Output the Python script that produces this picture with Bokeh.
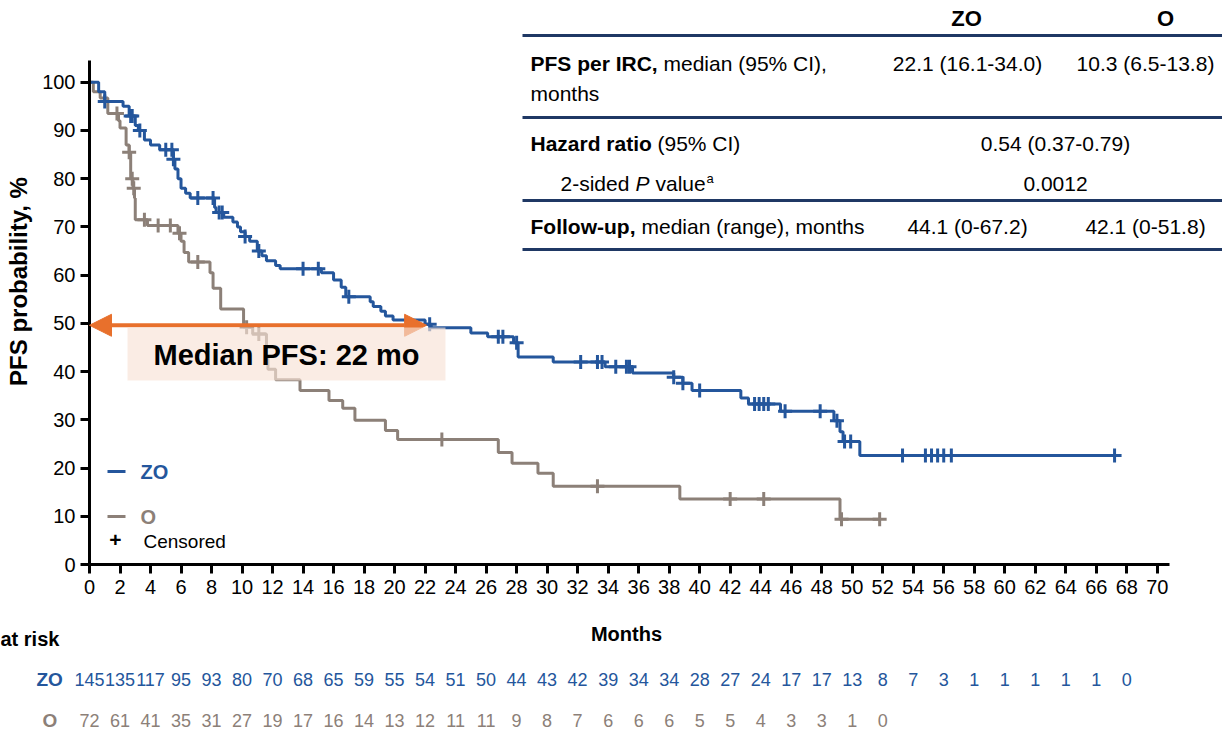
import numpy as np
from bokeh.plotting import figure
from bokeh.models import (Range1d, FixedTicker, Label, LabelSet, ColumnDataSource,
                          BoxAnnotation, Arrow, NormalHead, LinearAxis)
from bokeh.core.properties import value
from bokeh.embed import file_html
from bokeh.resources import INLINE

# ---------------- data ----------------
month_ticks = list(range(0, 72, 2))
prob_ticks = list(range(0, 101, 10))

zo_times = [0, 0.6, 1.0, 2.2, 2.6, 3.0, 3.2, 3.6, 4.0, 4.6, 5.5, 5.6, 5.8, 6.0, 6.3,
            6.6, 8.2, 8.3, 8.8, 9.4, 9.7, 9.9, 10.2, 10.5, 11.0, 11.3, 11.6, 12.2, 12.5,
            15.2, 16.0, 16.5, 16.8, 18.4, 18.6, 19.1, 19.4, 19.9, 22.0, 22.4, 25.0, 26.1,
            27.8, 28.1, 30.4, 33.8, 35.6, 38.3, 38.9, 39.5, 42.7, 43.2, 45.3, 48.8, 49.2,
            49.4, 50.5]
zo_surv = [100, 98, 96, 95, 93, 91, 90, 88, 87, 86, 84, 82, 80, 78, 77,
           76, 74, 73, 72, 71, 70, 69, 68, 67, 65, 64, 63, 62, 61.3,
           60.5, 59, 57.5, 55.5, 54.5, 53.5, 52.5, 51.5, 50.7, 49.8, 49.1, 48, 47.2,
           46, 43, 42, 41, 39.7, 38.8, 37.6, 36.1, 34.5, 33.3, 31.8, 29.8, 27.5,
           25.5, 22.6]
zo_end = 67.2
zo_censor = [1.0, 2.7, 2.8, 3.3, 5.0, 5.4, 5.5, 7.1, 8.1, 8.5, 8.7, 10.2, 11.1, 14.0,
             15.0, 17.0, 22.3, 26.8, 27.1, 28.0, 32.2, 33.3, 33.6, 34.5, 35.2, 35.4,
             38.3, 38.9, 40.0, 43.6, 43.9, 44.2, 44.5, 45.6, 47.9, 49.0, 49.5, 49.9,
             53.3, 54.8, 55.2, 55.6, 56.0, 56.5, 67.2]

o_times = [0, 0.25, 0.7, 1.2, 1.9, 2.0, 2.4, 2.6, 2.7, 2.85, 2.95, 3.0, 3.8, 5.8, 6.0,
           6.2, 6.5, 7.9, 8.1, 8.6, 10.1, 10.7, 11.6, 11.7, 12.2, 13.8, 15.7, 16.6, 17.4,
           19.4, 20.2, 26.8, 27.7, 29.4, 30.4, 38.7, 49.2]
o_surv = [100, 98, 96.7, 93.5, 92, 90.5, 87, 85.5, 80, 78, 76, 71.5, 70.3, 68.7, 67,
          64.7, 62.7, 60.5, 57.3, 53, 49.2, 47.8, 43, 40.5, 38.3, 36.1, 34, 32.4, 29.9,
          27.8, 25.9, 23.2, 21, 18.9, 16.2, 13.6, 9.4]
o_end = 51.8
o_censor = [1.8, 2.6, 2.8, 2.9, 3.6, 4.5, 5.3, 5.9, 7.1, 10.3, 11.1, 23.1, 33.3, 42.0,
            44.2, 49.3, 51.8]

risk_months_zo = list(range(0, 70, 2))
risk_zo = [145, 135, 117, 95, 93, 80, 70, 68, 65, 59, 55, 54, 51, 50, 44, 43, 42, 39,
           34, 34, 28, 27, 24, 17, 17, 13, 8, 7, 3, 1, 1, 1, 1, 1, 0]
risk_months_o = list(range(0, 54, 2))
risk_o = [72, 61, 41, 35, 31, 27, 19, 17, 16, 14, 13, 12, 11, 11, 9, 8, 7, 6, 6, 6, 5,
          5, 4, 3, 3, 1, 0]

median_zo = 22.1

# ---------------- style ----------------
BLUE = "#24569C"
GRAY = "#8C8078"
ORANGE = "#E8702C"
NAVY = "#1F3864"
SANS = "Liberation Sans"

W, H = 1222, 731
PX_X = 15.254   # pixels per month
PX_Y = 4.823    # pixels per percentage point
X0 = -89 / PX_X
Y1 = 564 / PX_Y
p = figure(width=W, height=H, output_backend="svg", toolbar_location=None,
           x_range=Range1d(X0, X0 + W / PX_X), y_range=Range1d(Y1 - H / PX_Y, Y1),
           x_axis_location=None, y_axis_location=None, min_border=0)
p.xgrid.visible = False
p.ygrid.visible = False
p.outline_line_color = None
p.background_fill_color = "white"
p.border_fill_color = "white"

xaxis = LinearAxis(fixed_location=0, bounds=(0, 70.8), ticker=FixedTicker(ticks=month_ticks))
yaxis = LinearAxis(fixed_location=0, bounds=(0, 104.5), ticker=FixedTicker(ticks=prob_ticks))
for ax in (xaxis, yaxis):
    ax.axis_line_width = 3
    ax.axis_line_color = "black"
    ax.major_tick_line_width = 3
    ax.major_tick_line_color = "black"
    ax.major_tick_out = 9
    ax.major_tick_in = 0
    ax.minor_tick_out = 0
    ax.minor_tick_in = 0
    ax.major_label_text_font = SANS
    ax.major_label_text_font_size = "20px"
    ax.major_label_text_color = "black"
xaxis.major_label_standoff = 6
yaxis.major_label_standoff = 5
p.add_layout(xaxis, "below")
p.add_layout(yaxis, "left")


def km_xy(times, surv, end):
    return list(times) + [end], list(surv) + [surv[-1]]


def censor_y(times, surv, cens):
    idx = np.searchsorted(np.array(times), np.array(cens), side="right") - 1
    return [surv[i] for i in idx]


ox, oy = km_xy(o_times, o_surv, o_end)
zx, zy = km_xy(zo_times, zo_surv, zo_end)
p.step(ox, oy, mode="after", line_width=3, line_color=GRAY)
p.step(zx, zy, mode="after", line_width=3, line_color=BLUE)
p.scatter(o_censor, censor_y(o_times, o_surv, o_censor), marker="cross", size=14,
          line_width=3, line_color=GRAY)
p.scatter(zo_censor, censor_y(zo_times, zo_surv, zo_censor), marker="cross", size=14,
          line_width=3, line_color=BLUE)

# median arrow
p.add_layout(Arrow(x_start=median_zo, y_start=49.6, x_end=0, y_end=49.6,
                   line_color=ORANGE, line_width=4,
                   start=NormalHead(size=22, fill_color=ORANGE, line_color=ORANGE),
                   end=NormalHead(size=22, fill_color=ORANGE, line_color=ORANGE)))


# screen helpers: the frame is the whole canvas; ref pixel (rx, ry) from top-left
def sx(rx):
    return rx


def sy(ry):
    return H - ry


def box(x0, x1, y0, y1, color, alpha=1.0):
    p.add_layout(BoxAnnotation(left=sx(x0), right=sx(x1), top=sy(y0), bottom=sy(y1),
                               left_units="screen", right_units="screen",
                               top_units="screen", bottom_units="screen",
                               fill_color=color, fill_alpha=alpha, line_color=None))


def lab(text, rx, ry, size, color="black", style="normal", align="left",
        font=SANS, angle=0.0, baseline="middle"):
    p.add_layout(Label(x=sx(rx), y=sy(ry), x_units="screen", y_units="screen",
                       text=text, text_font=font, text_font_size=f"{size}px",
                       text_font_style=style, text_color=color, text_align=align,
                       text_baseline=baseline, angle=angle))


# highlight box over curves
box(127, 445, 327, 380, "#F8E2D5", 0.65)
lab("Median PFS: 22 mo", 286, 354, 29, style="bold", align="center")

# table
for ry in (35, 117, 200, 249):
    box(522, 1222, ry - 1.6, ry + 1.6, NAVY)
lab("ZO", 966, 18, 22, style="bold", align="center")
lab("O", 1165, 18, 22, style="bold", align="center")
lab("PFS per IRC,", 530, 63, 21, style="bold")
lab("median (95% CI),", 663, 63, 21)
lab("months", 530, 93, 21)
lab("22.1 (16.1-34.0)", 967, 63, 21, align="center")
lab("10.3 (6.5-13.8)", 1145, 63, 21, align="center")
lab("Hazard ratio", 530, 143, 21, style="bold")
lab("(95% CI)", 657, 143, 21)
lab("0.54 (0.37-0.79)", 1055, 143, 21, align="center")
lab("2-sided", 560, 183, 21)
lab("P", 635, 183, 21, style="italic")
lab("value", 655, 183, 21)
lab("a", 706, 178, 13)
lab("0.0012", 1055, 183, 21, align="center")
lab("Follow-up,", 530, 226, 21, style="bold")
lab("median (range), months", 641, 226, 21)
lab("44.1 (0-67.2)", 967, 226, 21, align="center")
lab("42.1 (0-51.8)", 1145, 226, 21, align="center")

# axis titles
lab("PFS probability, %", 18, 281, 24, style="bold", align="center", angle=np.pi / 2)
lab("Months", 626, 633, 20, style="bold", align="center")

# legend
box(107, 125, 469.5, 472.5, BLUE)
box(107, 125, 514.5, 517.5, GRAY)
lab("ZO", 140, 471, 20, color=BLUE, style="bold")
lab("O", 140, 516, 20, color=GRAY, style="bold")
lab("+", 115, 539, 21, style="bold", align="center")
lab("Censored", 143, 541, 19)

# number at risk
lab("at risk", 0, 638, 20, style="bold")
lab("ZO", 36, 679, 19, color=BLUE, style="bold")
lab("O", 42, 720, 19, color=GRAY, style="bold")
src_zo = ColumnDataSource(dict(x=risk_months_zo, t=[str(v) for v in risk_zo]))
src_o = ColumnDataSource(dict(x=risk_months_o, t=[str(v) for v in risk_o]))
p.add_layout(LabelSet(x="x", y=sy(679), y_units="screen", text="t", source=src_zo,
                      text_font=value(SANS), text_font_size="18px", text_color=BLUE,
                      text_align="center", text_baseline="middle"))
p.add_layout(LabelSet(x="x", y=sy(720), y_units="screen", text="t", source=src_o,
                      text_font=value(SANS), text_font_size="18px", text_color=GRAY,
                      text_align="center", text_baseline="middle"))

open("out.html", "w").write(file_html(p, INLINE))
